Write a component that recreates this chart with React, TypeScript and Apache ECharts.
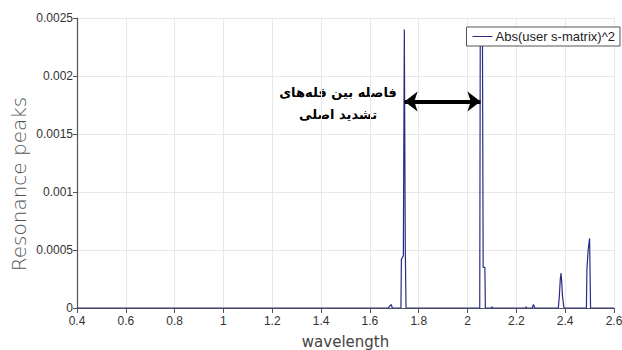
import React, { useEffect, useRef } from "react";
import * as echarts from "echarts";

// Transmission spectrum samples: wavelength and |S|^2
const wavelength = [
  0.4, 1.675, 1.683, 1.687, 1.692, 1.727, 1.729, 1.737, 1.741, 1.745, 1.748,
  2.05, 2.052, 2.061, 2.064, 2.071, 2.073, 2.098, 2.1, 2.102, 2.238, 2.24, 2.242,
  2.265, 2.27, 2.275, 2.372, 2.376, 2.38, 2.383, 2.386, 2.389, 2.392, 2.395,
  2.487, 2.489, 2.494, 2.5, 2.502, 2.504, 2.6,
];
const absSMatrix2 = [
  0, 0, 0.00002, 0.00003, 0, 0, 0.00042, 0.00045, 0.0024, 0.0005, 0,
  0, 0.0023, 0.0024, 0.00035, 0.00035, 0, 0, 0.00001, 0, 0, 0.00001, 0,
  0, 0.00003, 0, 0, 0.0001, 0.00025, 0.0003, 0.00022, 0.0001, 0.00005, 0,
  0, 0.00033, 0.0005, 0.0006, 0.0006, 0, 0,
];
const seriesName = "Abs(user s-matrix)^2";
const yTicks = ["0", "0.0005", "0.001", "0.0015", "0.002", "0.0025"];
const yTitle = "Resonance peaks";

// Spacing between the two main resonance peaks
const spacingFrom = [1.742, 0.00178];
const spacingTo = [2.053, 0.00178];
const noteLines = ["فاصله بین قله‌های", "تشدید اصلی"];

export default function App() {
  const ref = useRef<HTMLDivElement>(null);

  useEffect(() => {
    if (!ref.current) return;
    const chart = echarts.init(ref.current, undefined, { renderer: "svg" });
    const points = wavelength.map((w, i) => [w, absSMatrix2[i]]);
    const noteStyle = {
      fontFamily: "DejaVu Sans",
      fontWeight: "bold",
      fontSize: 13,
      fill: "#000",
      align: "center",
      verticalAlign: "middle",
    };
    chart.setOption({
      animation: false,
      backgroundColor: "#ffffff",
      grid: { left: 77, right: 8, top: 18, bottom: 42, outerBoundsMode: "none" },
      legend: {
        right: 2,
        top: 27,
        backgroundColor: "#ffffff",
        borderColor: "#555555",
        borderWidth: 1,
        borderRadius: 0,
        padding: [3, 5, 3, 6],
        itemWidth: 20,
        itemHeight: 10,
        itemGap: 4,
        icon: "path://M0,5 L20,5 L20,6 L0,6 Z",
        textStyle: { fontFamily: "Liberation Sans", fontSize: 13, color: "#222", padding: [0, 0, 0, -2] },
        data: [seriesName],
      },
      xAxis: {
        type: "value",
        min: 0.4,
        max: 2.6,
        interval: 0.2,
        name: "wavelength",
        nameLocation: "middle",
        nameGap: 26,
        nameTextStyle: { fontFamily: "DejaVu Sans", fontSize: 15, color: "#444" },
        axisLine: { lineStyle: { color: "#555", width: 1.2 } },
        axisTick: { show: true, length: 5, lineStyle: { color: "#555" } },
        axisLabel: {
          fontFamily: "Liberation Sans",
          fontSize: 12,
          color: "#333",
          margin: 7,
          formatter: (v: number) => String(Number(v.toFixed(1))),
        },
        splitLine: { show: true, lineStyle: { color: "#e8e8e8", width: 1 } },
      },
      yAxis: {
        type: "value",
        min: 0,
        max: 0.0025,
        interval: 0.0005,
        axisLine: { show: true, lineStyle: { color: "#555", width: 1.2 } },
        axisTick: { show: true, length: 4, lineStyle: { color: "#555" } },
        axisLabel: {
          fontFamily: "Liberation Sans",
          fontSize: 12,
          color: "#333",
          margin: 4,
          formatter: (v: number) => yTicks[Math.round(v / 0.0005)] ?? String(v),
        },
        splitLine: { show: true, lineStyle: { color: "#e8e8e8", width: 1 } },
      },
      series: [
        {
          name: seriesName,
          type: "line",
          data: points,
          showSymbol: false,
          lineStyle: { color: "#2b2b85", width: 1.2 },
          itemStyle: { color: "#2b2b85" },
          markLine: {
            silent: true,
            symbol: ["arrow", "arrow"],
            symbolSize: [15, 13],
            label: { show: false },
            lineStyle: { color: "#000", width: 4, type: "solid" },
            data: [[{ coord: spacingFrom }, { coord: spacingTo }]],
          },
        },
      ],
      graphic: [
        {
          type: "text",
          x: 19,
          y: 184,
          rotation: Math.PI / 2,
          style: {
            text: yTitle,
            fontFamily: "DejaVu Sans",
            fontWeight: 300,
            fontSize: 20,
            fill: "#555",
            align: "center",
            verticalAlign: "middle",
          },
        },
        { type: "text", x: 338, y: 92, style: { ...noteStyle, text: noteLines[0] } },
        { type: "text", x: 338, y: 114, style: { ...noteStyle, text: noteLines[1] } },
      ],
    });
    return () => chart.dispose();
  }, []);

  return (
    <div
      ref={ref}
      style={{ position: "fixed", left: 0, top: 0, width: 622, height: 350 }}
    />
  );
}
